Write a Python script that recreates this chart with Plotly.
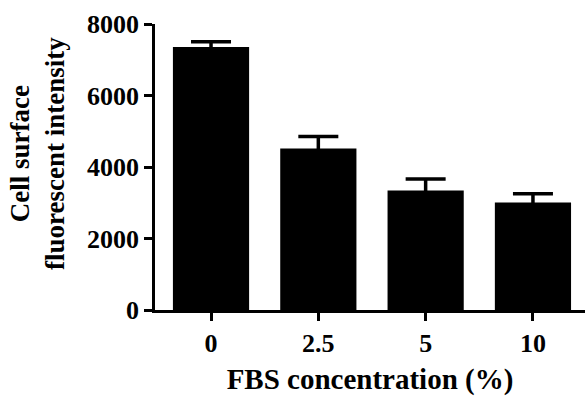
import plotly.graph_objects as go

categories = ["0", "2.5", "5", "10"]
means = [7360, 4520, 3340, 3010]
errors = [145, 330, 325, 245]
y_ticks = [0, 2000, 4000, 6000, 8000]

positions = list(range(len(categories)))
FONT = "Liberation Serif"

fig = go.Figure()
fig.add_trace(go.Bar(
    x=positions, y=means, width=0.71,
    marker=dict(color="black", line=dict(width=0)),
    error_y=dict(type="data", array=errors, symmetric=True,
                 color="black", thickness=3.5, width=20),
))

fig.update_layout(
    width=585, height=407,
    margin=dict(l=155, r=0, t=24, b=97),
    plot_bgcolor="white", paper_bgcolor="white",
    showlegend=False,
    font=dict(family=FONT, color="black", size=26, weight="bold"),
    xaxis=dict(
        range=[-0.522, 3.485],
        tickvals=positions, ticktext=categories,
        showline=True, linecolor="black", linewidth=2.5,
        ticks="outside", ticklen=8, tickwidth=2.5, tickcolor="black",
        showgrid=False, zeroline=False,
        tickfont=dict(family=FONT, size=26, weight="bold"),
        title=dict(text="FBS concentration (%)", standoff=12,
                   font=dict(family=FONT, size=29, weight="bold")),
        automargin=False,
    ),
    yaxis=dict(
        range=[0, 8000],
        tickvals=y_ticks,
        showline=True, linecolor="black", linewidth=2.5,
        ticks="outside", ticklen=8, tickwidth=2.5, tickcolor="black",
        showgrid=False, zeroline=False,
        tickfont=dict(family=FONT, size=26, weight="bold"),
        automargin=False,
    ),
    annotations=[dict(
        text="Cell surface<br>fluorescent intensity",
        textangle=-90, showarrow=False,
        xref="paper", yref="paper", x=0, y=0.5,
        xanchor="center", yanchor="middle",
        xshift=-118, yshift=13,
        font=dict(family=FONT, size=27, weight="bold", color="black"),
    )],
)

fig.write_html("out.html")
